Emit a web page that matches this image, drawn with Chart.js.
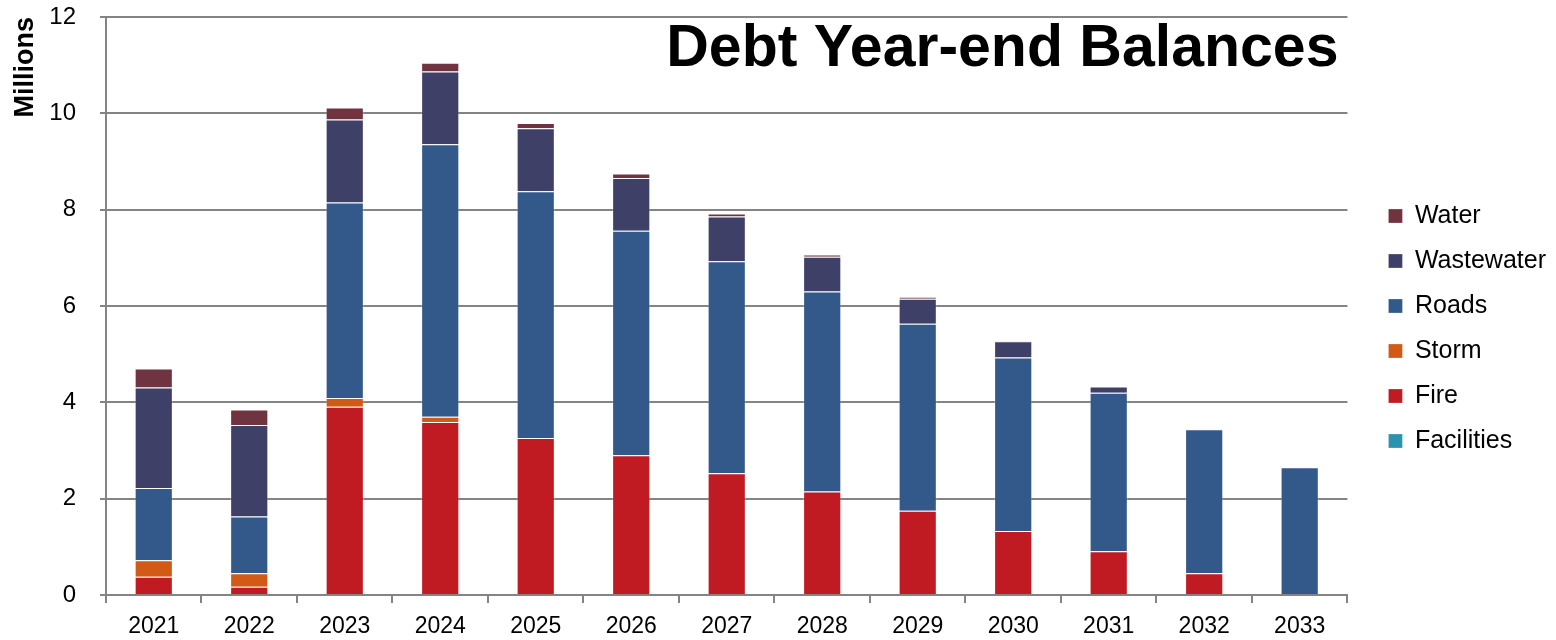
<!DOCTYPE html>
<html>
<head>
    <meta charset='utf-8'>
    <title>Debt Year-end Balances</title>
    <style>
        body { margin: 0; background: #fff; }
        #wrap { width: 1556px; height: 640px; }
    </style>
</head>
<body>
    <div id="wrap">
        <canvas id="myChart-debt"></canvas>
    </div>

    <script src="https://cdn.jsdelivr.net/npm/chart.js"></script>
    <script>
// values in millions
const years = ['2021', '2022', '2023', '2024', '2025', '2026', '2027', '2028', '2029', '2030', '2031', '2032', '2033'];
const facilities = [0, 0, 0, 0, 0, 0, 0, 0, 0, 0, 0, 0, 0];
const fire = [0.38, 0.17, 3.91, 3.59, 3.26, 2.90, 2.53, 2.15, 1.75, 1.33, 0.91, 0.45, 0];
const storm = [0.34, 0.28, 0.18, 0.11, 0, 0, 0, 0, 0, 0, 0, 0, 0];
const roads = [1.50, 1.18, 4.06, 5.66, 5.12, 4.66, 4.40, 4.15, 3.88, 3.60, 3.29, 2.99, 2.65];
const wastewater = [2.09, 1.90, 1.72, 1.51, 1.31, 1.10, 0.93, 0.72, 0.52, 0.34, 0.13, 0, 0];
const water = [0.39, 0.32, 0.25, 0.18, 0.11, 0.09, 0.06, 0.05, 0.04, 0.01, 0, 0, 0];
const yTicks = [0, 2, 4, 6, 8, 10, 12];

const font = '"Liberation Sans", Arial, sans-serif';
const gridGray = '#848484';

const ds = (label, values, color) => ({
    label: label,
    data: values,
    backgroundColor: color,
    borderColor: 'rgba(255, 255, 255, 0.25)',
    borderWidth: 1,
    barPercentage: 0.4,
    categoryPercentage: 1
});

const data = {
    labels: years,
    datasets: [
        ds('Facilities', facilities, 'rgb(43, 147, 173)'),
        ds('Fire', fire, 'rgb(192, 26, 35)'),
        ds('Storm', storm, 'rgb(208, 90, 22)'),
        ds('Roads', roads, 'rgb(51, 89, 138)'),
        ds('Wastewater', wastewater, 'rgb(63, 64, 104)'),
        ds('Water', water, 'rgb(112, 51, 64)')
    ]
};

// big title sits inside the plot, top right
const bigTitle = {
    id: 'bigTitle',
    afterDraw(chart) {
        const ctx = chart.ctx;
        ctx.save();
        ctx.font = 'bold 59px ' + font;
        ctx.fillStyle = '#000';
        ctx.textAlign = 'right';
        ctx.textBaseline = 'alphabetic';
        ctx.fillText('Debt Year-end Balances', chart.chartArea.right - 9, 66);
        ctx.restore();
    }
};

Chart.defaults.font.family = font;
Chart.defaults.color = '#000';

new Chart(document.getElementById('myChart-debt'), {
    type: 'bar',
    data: data,
    plugins: [bigTitle],
    options: {
        responsive: true,
        maintainAspectRatio: false,
        animation: false,
        layout: { padding: { top: 17, right: 0, bottom: 0, left: 0 } },
        plugins: {
            tooltip: { enabled: false },
            legend: {
                position: 'right',
                reverse: true,
                labels: {
                    boxWidth: 14,
                    boxHeight: 14,
                    padding: 20,
                    font: { size: 25 },
                    color: '#000'
                }
            }
        },
        scales: {
            x: {
                stacked: true,
                afterFit: (s) => { s.height = 45; },
                grid: {
                    offset: true,
                    drawOnChartArea: false,
                    color: gridGray,
                    lineWidth: 2,
                    tickLength: 8
                },
                border: { color: gridGray, width: 2 },
                ticks: { font: { size: 23 }, color: '#000', padding: 10, maxRotation: 0 }
            },
            y: {
                stacked: true,
                min: 0,
                max: 12,
                afterBuildTicks: (axis) => { axis.ticks = yTicks.map(v => ({ value: v })); },
                afterFit: (s) => { s.width = 106; s.paddingTop = 0; s.paddingBottom = 0; },
                grid: {
                    color: gridGray,
                    lineWidth: 2,
                    tickLength: 6
                },
                border: { color: gridGray, width: 2 },
                ticks: { font: { size: 24 }, color: '#000', padding: 24 },
                title: {
                    display: true,
                    text: 'Millions',
                    align: 'end',
                    font: { size: 27, weight: 'bold' },
                    color: '#000',
                    padding: { top: 9, bottom: 10 }
                }
            },
            // empty spacer between plot and legend
            gap: {
                type: 'linear',
                position: 'right',
                display: true,
                afterFit: (s) => { s.width = 21; s.paddingTop = 0; s.paddingBottom = 0; },
                grid: { drawOnChartArea: false, drawTicks: false },
                border: { display: false },
                ticks: { display: false }
            }
        }
    }
});
    </script>
</body>
</html>
